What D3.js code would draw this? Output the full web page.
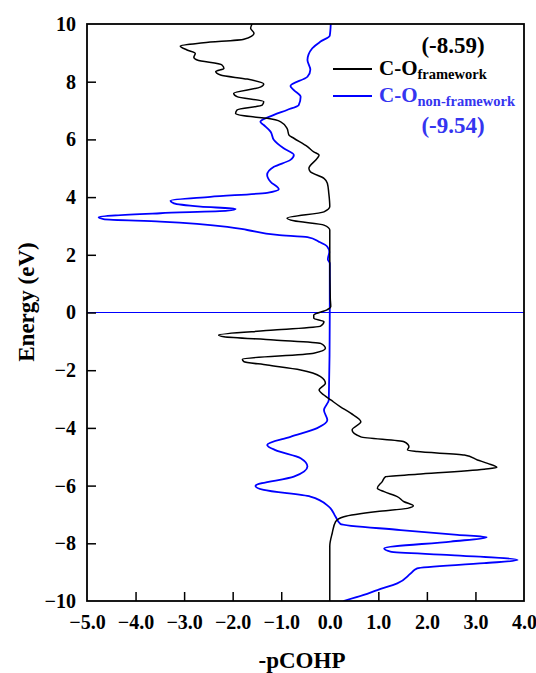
<!DOCTYPE html>
<html>
<head>
<meta charset="utf-8">
<script src="https://cdn.jsdelivr.net/npm/d3@7"></script>
<style>
  html, body { margin: 0; padding: 0; background: #fff; }
  svg text { font-family: "Liberation Serif", "Times New Roman", Times, "DejaVu Serif", serif !important; font-weight: bold; }
</style>
</head>
<body>
<svg id="chart" width="536" height="673"></svg>
<script>
// ---- data ----
const xTicks = [-5, -4, -3, -2, -1, 0, 1, 2, 3, 4];
const yTicks = [-10, -8, -6, -4, -2, 0, 2, 4, 6, 8, 10];

const energyFramework = [10.0, 9.85, 9.68, 9.47, 9.35, 9.24, 9.1, 8.98, 8.85, 8.75, 8.58, 8.46, 8.35, 8.23, 8.09, 7.92, 7.81, 7.60, 7.48, 7.31, 7.19, 7.02, 6.90, 6.79, 6.73, 6.61, 6.38, 6.15, 6.04, 5.75, 5.57, 5.46, 5.34, 5.0, 4.88, 4.65, 4.48, 4.13, 3.67, 3.49, 3.27, 3.18, 3.03, 2.86, 2.0, 0.5, 0.2, 0.1, -0.09, -0.2, -0.32, -0.47, -0.61, -0.78, -0.84, -0.95, -1.07, -1.24, -1.41, -1.62, -1.70, -1.82, -1.99, -2.22, -2.45, -2.69, -2.86, -3.03, -3.27, -3.49, -3.79, -4.07, -4.31, -4.48, -4.65, -4.77, -4.82, -4.94, -5.11, -5.23, -5.37, -5.43, -5.61, -5.69, -5.86, -6.09, -6.21, -6.38, -6.56, -6.70, -6.79, -6.90, -7.08, -7.25, -7.65, -8.1, -10.0];
const pcohpFramework = [-1.60, -1.63, -1.56, -1.77, -2.6, -3.08, -2.94, -2.77, -2.80, -2.73, -2.22, -2.18, -2.35, -2.25, -1.70, -1.36, -1.43, -1.98, -1.91, -1.36, -1.39, -1.91, -1.94, -1.63, -1.29, -1.01, -0.88, -0.84, -0.74, -0.46, -0.33, -0.22, -0.26, -0.43, -0.40, -0.12, -0.05, -0.02, 0.0, -0.12, -0.88, -0.74, -0.12, 0.0, 0.0, 0.01, 0.02, -0.05, -0.33, -0.33, -0.12, -0.19, -1.15, -2.29, -2.18, -1.15, -0.19, -0.09, -0.33, -1.80, -1.77, -1.29, -0.60, -0.19, -0.09, -0.22, -0.12, 0.02, 0.22, 0.43, 0.64, 0.46, 0.64, 1.53, 1.63, 1.60, 1.80, 2.77, 3.04, 3.25, 3.44, 3.18, 1.80, 1.15, 1.08, 0.98, 1.12, 1.39, 1.53, 1.72, 1.60, 0.98, 0.29, 0.12, 0.05, 0.0, 0.0];

const energyNonFramework = [10.0, 9.6, 9.39, 9.16, 8.75, 8.41, 8.17, 7.85, 7.71, 7.48, 7.19, 7.02, 6.85, 6.61, 6.50, 6.27, 5.98, 5.69, 5.46, 5.29, 5.05, 4.77, 4.53, 4.27, 4.15, 4.01, 3.88, 3.78, 3.67, 3.59, 3.53, 3.44, 3.30, 3.24, 3.15, 2.97, 2.86, 2.69, 2.61, 2.45, 2.28, 2.1, 1.85, 1.7, 0.0, -3.03, -3.38, -3.73, -4.01, -4.31, -4.59, -4.77, -5.05, -5.34, -5.69, -6.01, -6.15, -6.38, -6.73, -7.08, -7.33, -7.54, -7.71, -7.79, -7.94, -8.17, -8.29, -8.41, -8.58, -8.69, -8.87, -9.04, -9.39, -9.62, -9.79, -10.0];
const pcohpNonFramework = [0.02, 0.0, -0.19, -0.36, -0.46, -0.40, -0.46, -0.81, -0.74, -0.60, -0.64, -0.88, -1.15, -1.43, -1.36, -1.22, -1.15, -0.95, -0.74, -0.81, -1.15, -1.29, -1.22, -1.05, -1.29, -2.46, -3.28, -3.21, -2.66, -1.94, -2.11, -3.49, -4.76, -4.66, -3.49, -2.11, -1.70, -1.08, -0.46, -0.22, -0.05, -0.01, -0.04, 0.0, 0.0, -0.02, -0.12, -0.05, -0.26, -0.81, -1.29, -1.12, -0.60, -0.46, -0.74, -1.53, -1.36, -0.40, -0.02, 0.12, 0.22, 1.46, 2.63, 3.23, 2.49, 1.12, 1.25, 2.49, 3.87, 3.18, 1.80, 1.67, 1.39, 0.98, 0.70, 0.28];

const seriesNames = ["framework", "non-framework"];
const integratedValues = ["(-8.59)", "(-9.54)"];

// ---- layout ----
const pLeft = 87, pRight = 524, pTop = 24, pBottom = 601;
const svg = d3.select("#chart");
const x = d3.scaleLinear().domain([-5, 4]).range([pLeft, pRight]);
const y = d3.scaleLinear().domain([-10, 10]).range([pBottom, pTop]);

svg.append("defs").append("clipPath").attr("id", "clip")
  .append("rect").attr("x", pLeft).attr("y", pTop).attr("width", pRight - pLeft).attr("height", pBottom - pTop);

const plot = svg.append("g").attr("clip-path", "url(#clip)");

// Fermi level line
plot.append("line")
  .attr("x1", pLeft).attr("x2", pRight)
  .attr("y1", y(0)).attr("y2", y(0))
  .attr("stroke", "#0000ff").attr("stroke-width", 1.2);

const line = d3.line().x(d => x(d[1])).y(d => y(d[0])).curve(d3.curveMonotoneY);

const blackData = energyFramework.map((e, i) => [e, pcohpFramework[i]]);
const blueData = energyNonFramework.map((e, i) => [e, pcohpNonFramework[i]]);

plot.append("path").datum(blueData).attr("d", line)
  .attr("fill", "none").attr("stroke", "#0000ff").attr("stroke-width", 1.8);
plot.append("path").datum(blackData).attr("d", line)
  .attr("fill", "none").attr("stroke", "#000").attr("stroke-width", 1.5);

// axes
const xAxis = d3.axisBottom(x).tickValues(xTicks).tickFormat(d3.format(".1f")).tickSizeInner(-9).tickSizeOuter(0).tickPadding(20);
const gx = svg.append("g").attr("transform", `translate(0,${pBottom})`).call(xAxis);
const yAxis = d3.axisLeft(y).tickValues(yTicks).tickFormat(d3.format("d")).tickSizeInner(-9).tickSizeOuter(0).tickPadding(20);
const gy = svg.append("g").attr("transform", `translate(${pLeft},0)`).call(yAxis);
[gx, gy].forEach(g => {
  g.attr("font-family", null);
  g.select(".domain").remove();
  g.selectAll(".tick line").attr("stroke", "#000").attr("stroke-width", 1.5);
  g.selectAll(".tick text").attr("font-size", 20).attr("fill", "#000");
});
gx.selectAll(".tick text").attr("dy", "0.71em").attr("y", 14);
gx.selectAll(".tick").filter(d => d === 0).select("line").remove();
gy.selectAll(".tick").filter(d => d === -10 || d === 10).select("line").remove();
gx.selectAll(".tick").filter(d => d === -5 || d === 4).select("line").remove();
gy.selectAll(".tick text").attr("x", -11);

// frame
svg.append("rect").attr("x", pLeft).attr("y", pTop).attr("width", pRight - pLeft).attr("height", pBottom - pTop)
  .attr("fill", "none").attr("stroke", "#000").attr("stroke-width", 1.8);

// axis titles
svg.append("text").attr("x", 302).attr("y", 668).attr("text-anchor", "middle")
  .attr("font-size", 23).attr("fill", "#000").text("-pCOHP");
svg.append("text").attr("transform", "translate(34,302) rotate(-90)").attr("text-anchor", "middle")
  .attr("font-size", 23).attr("fill", "#000").text("Energy (eV)");

// legend
const legendColors = ["#000", "#0000ff"];
const legendTextColors = ["#000", "#3535f0"];
const legY = [69, 96];
seriesNames.forEach((name, i) => {
  svg.append("line").attr("x1", 333).attr("x2", 372).attr("y1", legY[i]).attr("y2", legY[i])
    .attr("stroke", legendColors[i]).attr("stroke-width", 1.8);
  const t = svg.append("text").attr("x", 379).attr("y", legY[i] + 6).attr("fill", legendTextColors[i]).attr("font-size", 21);
  t.append("tspan").text("C-O");
  t.append("tspan").attr("font-size", 14.5).attr("dy", 4).text(name);
});
svg.append("text").attr("x", 453).attr("y", 53).attr("text-anchor", "middle").attr("font-size", 23).attr("fill", "#000").text(integratedValues[0]);
svg.append("text").attr("x", 453).attr("y", 133).attr("text-anchor", "middle").attr("font-size", 23).attr("fill", "#3535f0").text(integratedValues[1]);
</script>
</body>
</html>
